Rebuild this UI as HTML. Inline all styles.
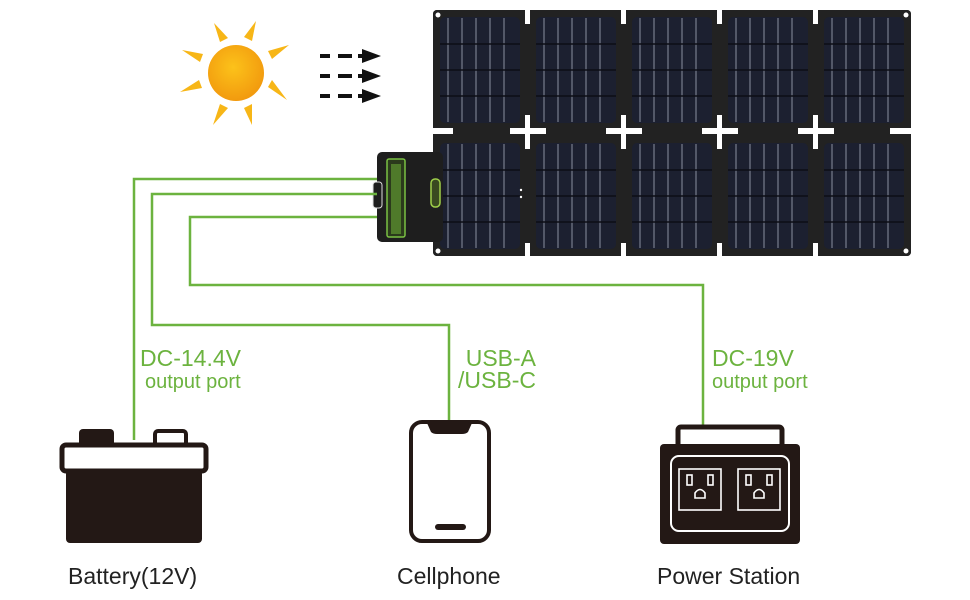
<!DOCTYPE html>
<html><head><meta charset="utf-8"><style>
html,body{margin:0;padding:0;background:#fff;}
svg{display:block;}
text{font-family:"Liberation Sans",Arial,sans-serif;}
</style></head><body>
<svg width="970" height="600" viewBox="0 0 970 600" xmlns="http://www.w3.org/2000/svg">
<defs>
<radialGradient id="sg" cx="0.45" cy="0.4" r="0.6"><stop offset="0" stop-color="#fcc21a"/><stop offset="1" stop-color="#f29a0e"/></radialGradient>
<g id="cell">
 <rect x="0" y="0" width="94" height="120" rx="4" fill="#222"/>
 <rect x="7" y="7" width="80" height="106" rx="5" fill="#1c2030"/>
 <g stroke="#8a90a0" stroke-width="1">
  <line x1="15" y1="8" x2="15" y2="112"/><line x1="29" y1="8" x2="29" y2="112"/><line x1="43" y1="8" x2="43" y2="112"/><line x1="57" y1="8" x2="57" y2="112"/><line x1="71" y1="8" x2="71" y2="112"/>
 </g>
 <g stroke="#0c0e16" stroke-width="1.5">
  <line x1="7" y1="34" x2="87" y2="34"/><line x1="7" y1="60" x2="87" y2="60"/><line x1="7" y1="86" x2="87" y2="86"/>
 </g>
</g>
</defs>
<!-- sun -->
<g fill="#f7b617">
 <polygon points="214,23 228,38 220,42"/><polygon points="256,21 252,41 244,37"/>
 <polygon points="182,50 203,54 200,62"/><polygon points="289,45 272,59 268,51"/>
 <polygon points="180,92 199,80 202,88"/><polygon points="287,100 268,87 272,80"/>
 <polygon points="213,125 220,104 228,108"/><polygon points="252,125 244,108 252,104"/>
</g>
<circle cx="236" cy="73" r="28" fill="url(#sg)"/>
<!-- arrows -->
<g stroke="#111" stroke-width="4">
 <line x1="320" y1="56" x2="330" y2="56"/><line x1="338" y1="56" x2="352" y2="56"/><line x1="358" y1="56" x2="366" y2="56"/>
 <line x1="320" y1="76" x2="330" y2="76"/><line x1="338" y1="76" x2="352" y2="76"/><line x1="358" y1="76" x2="366" y2="76"/>
 <line x1="320" y1="96" x2="330" y2="96"/><line x1="338" y1="96" x2="352" y2="96"/><line x1="358" y1="96" x2="366" y2="96"/>
</g>
<g fill="#111"><polygon points="362,49 381,56 362,63"/><polygon points="362,69 381,76 362,83"/><polygon points="362,89 381,96 362,103"/></g>
<!-- panels -->
<rect x="433" y="10" width="478" height="246" rx="4" fill="#222"/>
<use href="#cell" x="433" y="10"/><use href="#cell" x="529" y="10"/><use href="#cell" x="625" y="10"/><use href="#cell" x="721" y="10"/><use href="#cell" x="817" y="10"/>
<use href="#cell" x="433" y="136"/><use href="#cell" x="529" y="136"/><use href="#cell" x="625" y="136"/><use href="#cell" x="721" y="136"/><use href="#cell" x="817" y="136"/>
<g fill="#fff">
 <rect x="525" y="10" width="5" height="14"/><rect x="621" y="10" width="5" height="14"/><rect x="717" y="10" width="5" height="14"/><rect x="813" y="10" width="5" height="14"/>
 <rect x="433" y="128" width="20" height="6"/><rect x="890" y="128" width="21" height="6"/>
 <rect x="510" y="128" width="36" height="6"/><rect x="525" y="115" width="5" height="34"/>
 <rect x="606" y="128" width="36" height="6"/><rect x="621" y="115" width="5" height="34"/>
 <rect x="702" y="128" width="36" height="6"/><rect x="717" y="115" width="5" height="34"/>
 <rect x="798" y="128" width="36" height="6"/><rect x="813" y="115" width="5" height="34"/>
 <rect x="525" y="243" width="5" height="13"/><rect x="621" y="243" width="5" height="13"/><rect x="717" y="243" width="5" height="13"/><rect x="813" y="243" width="5" height="13"/>
 <circle cx="438" cy="15" r="2.5"/><circle cx="906" cy="15" r="2.5"/><circle cx="438" cy="251" r="2.5"/><circle cx="906" cy="251" r="2.5"/>
 <circle cx="521" cy="190" r="1.2"/><circle cx="521" cy="197" r="1.2"/>
</g>
<!-- control box -->
<rect x="377" y="152" width="66" height="90" rx="5" fill="#1e1e1e"/>
<rect x="387" y="159" width="18" height="78" rx="2" fill="#2b3a1c" stroke="#7ac143" stroke-width="1.5"/>
<rect x="391" y="164" width="10" height="70" fill="#4f7a2a"/>
<rect x="431" y="179" width="9" height="28" rx="4" fill="#3a4a20" stroke="#9fd04a" stroke-width="1.5"/>
<rect x="373" y="182" width="9" height="26" rx="3" fill="#1e1e1e" stroke="#ddd" stroke-width="1"/>
<!-- green wires -->
<g fill="none" stroke="#6cb33f" stroke-width="2.5">
 <polyline points="377,179 134,179 134,440"/>
 <polyline points="377,194 152,194 152,325 449,325 449,421"/>
 <polyline points="377,217 190,217 190,285 703,285 703,426"/>
</g>
<!-- labels -->
<g fill="#6cb33f">
 <text x="140" y="366" font-size="23">DC-14.4V</text>
 <text x="145" y="388" font-size="20">output port</text>
 <text x="536" y="366" font-size="23" text-anchor="end">USB-A</text>
 <text x="536" y="388" font-size="23" text-anchor="end">/USB-C</text>
 <text x="712" y="366" font-size="23">DC-19V</text>
 <text x="712" y="388" font-size="20">output port</text>
</g>
<!-- battery -->
<rect x="79" y="429" width="35" height="18" rx="4" fill="#231815"/>
<rect x="155" y="431" width="31" height="16" rx="3" fill="#fff" stroke="#231815" stroke-width="4"/>
<rect x="62" y="445" width="144" height="26" rx="4" fill="#fff" stroke="#231815" stroke-width="5"/>
<rect x="66" y="470" width="136" height="73" rx="4" fill="#231815"/>
<!-- phone -->
<rect x="411" y="422" width="78" height="119" rx="11" fill="#fff" stroke="#231815" stroke-width="4"/>
<path d="M427,423 L472,423 L468,432 Q466,434 462,434 L437,434 Q433,434 431,432 Z" fill="#231815"/>
<rect x="435" y="524" width="31" height="6" rx="3" fill="#231815"/>
<!-- power station -->
<rect x="678" y="427" width="104" height="20" rx="3" fill="#fff" stroke="#231815" stroke-width="5"/>
<rect x="660" y="444" width="140" height="100" rx="4" fill="#231815"/>
<rect x="671" y="456" width="118" height="75" rx="8" fill="none" stroke="#fff" stroke-width="2"/>
<g fill="none" stroke="#fff" stroke-width="1.6">
 <rect x="679" y="469" width="42" height="41"/>
 <rect x="738" y="469" width="42" height="41"/>
 <rect x="687" y="475" width="5" height="10"/><rect x="708" y="475" width="5" height="10"/>
 <path d="M695,498 L695,493 Q700,486 705,493 L705,498 Z"/>
 <rect x="746" y="475" width="5" height="10"/><rect x="767" y="475" width="5" height="10"/>
 <path d="M754,498 L754,493 Q759,486 764,493 L764,498 Z"/>
</g>
<!-- bottom labels -->
<g fill="#222" font-size="23">
 <text x="68" y="584">Battery(12V)</text>
 <text x="397" y="584">Cellphone</text>
 <text x="657" y="584">Power Station</text>
</g>
</svg>
</body></html>
